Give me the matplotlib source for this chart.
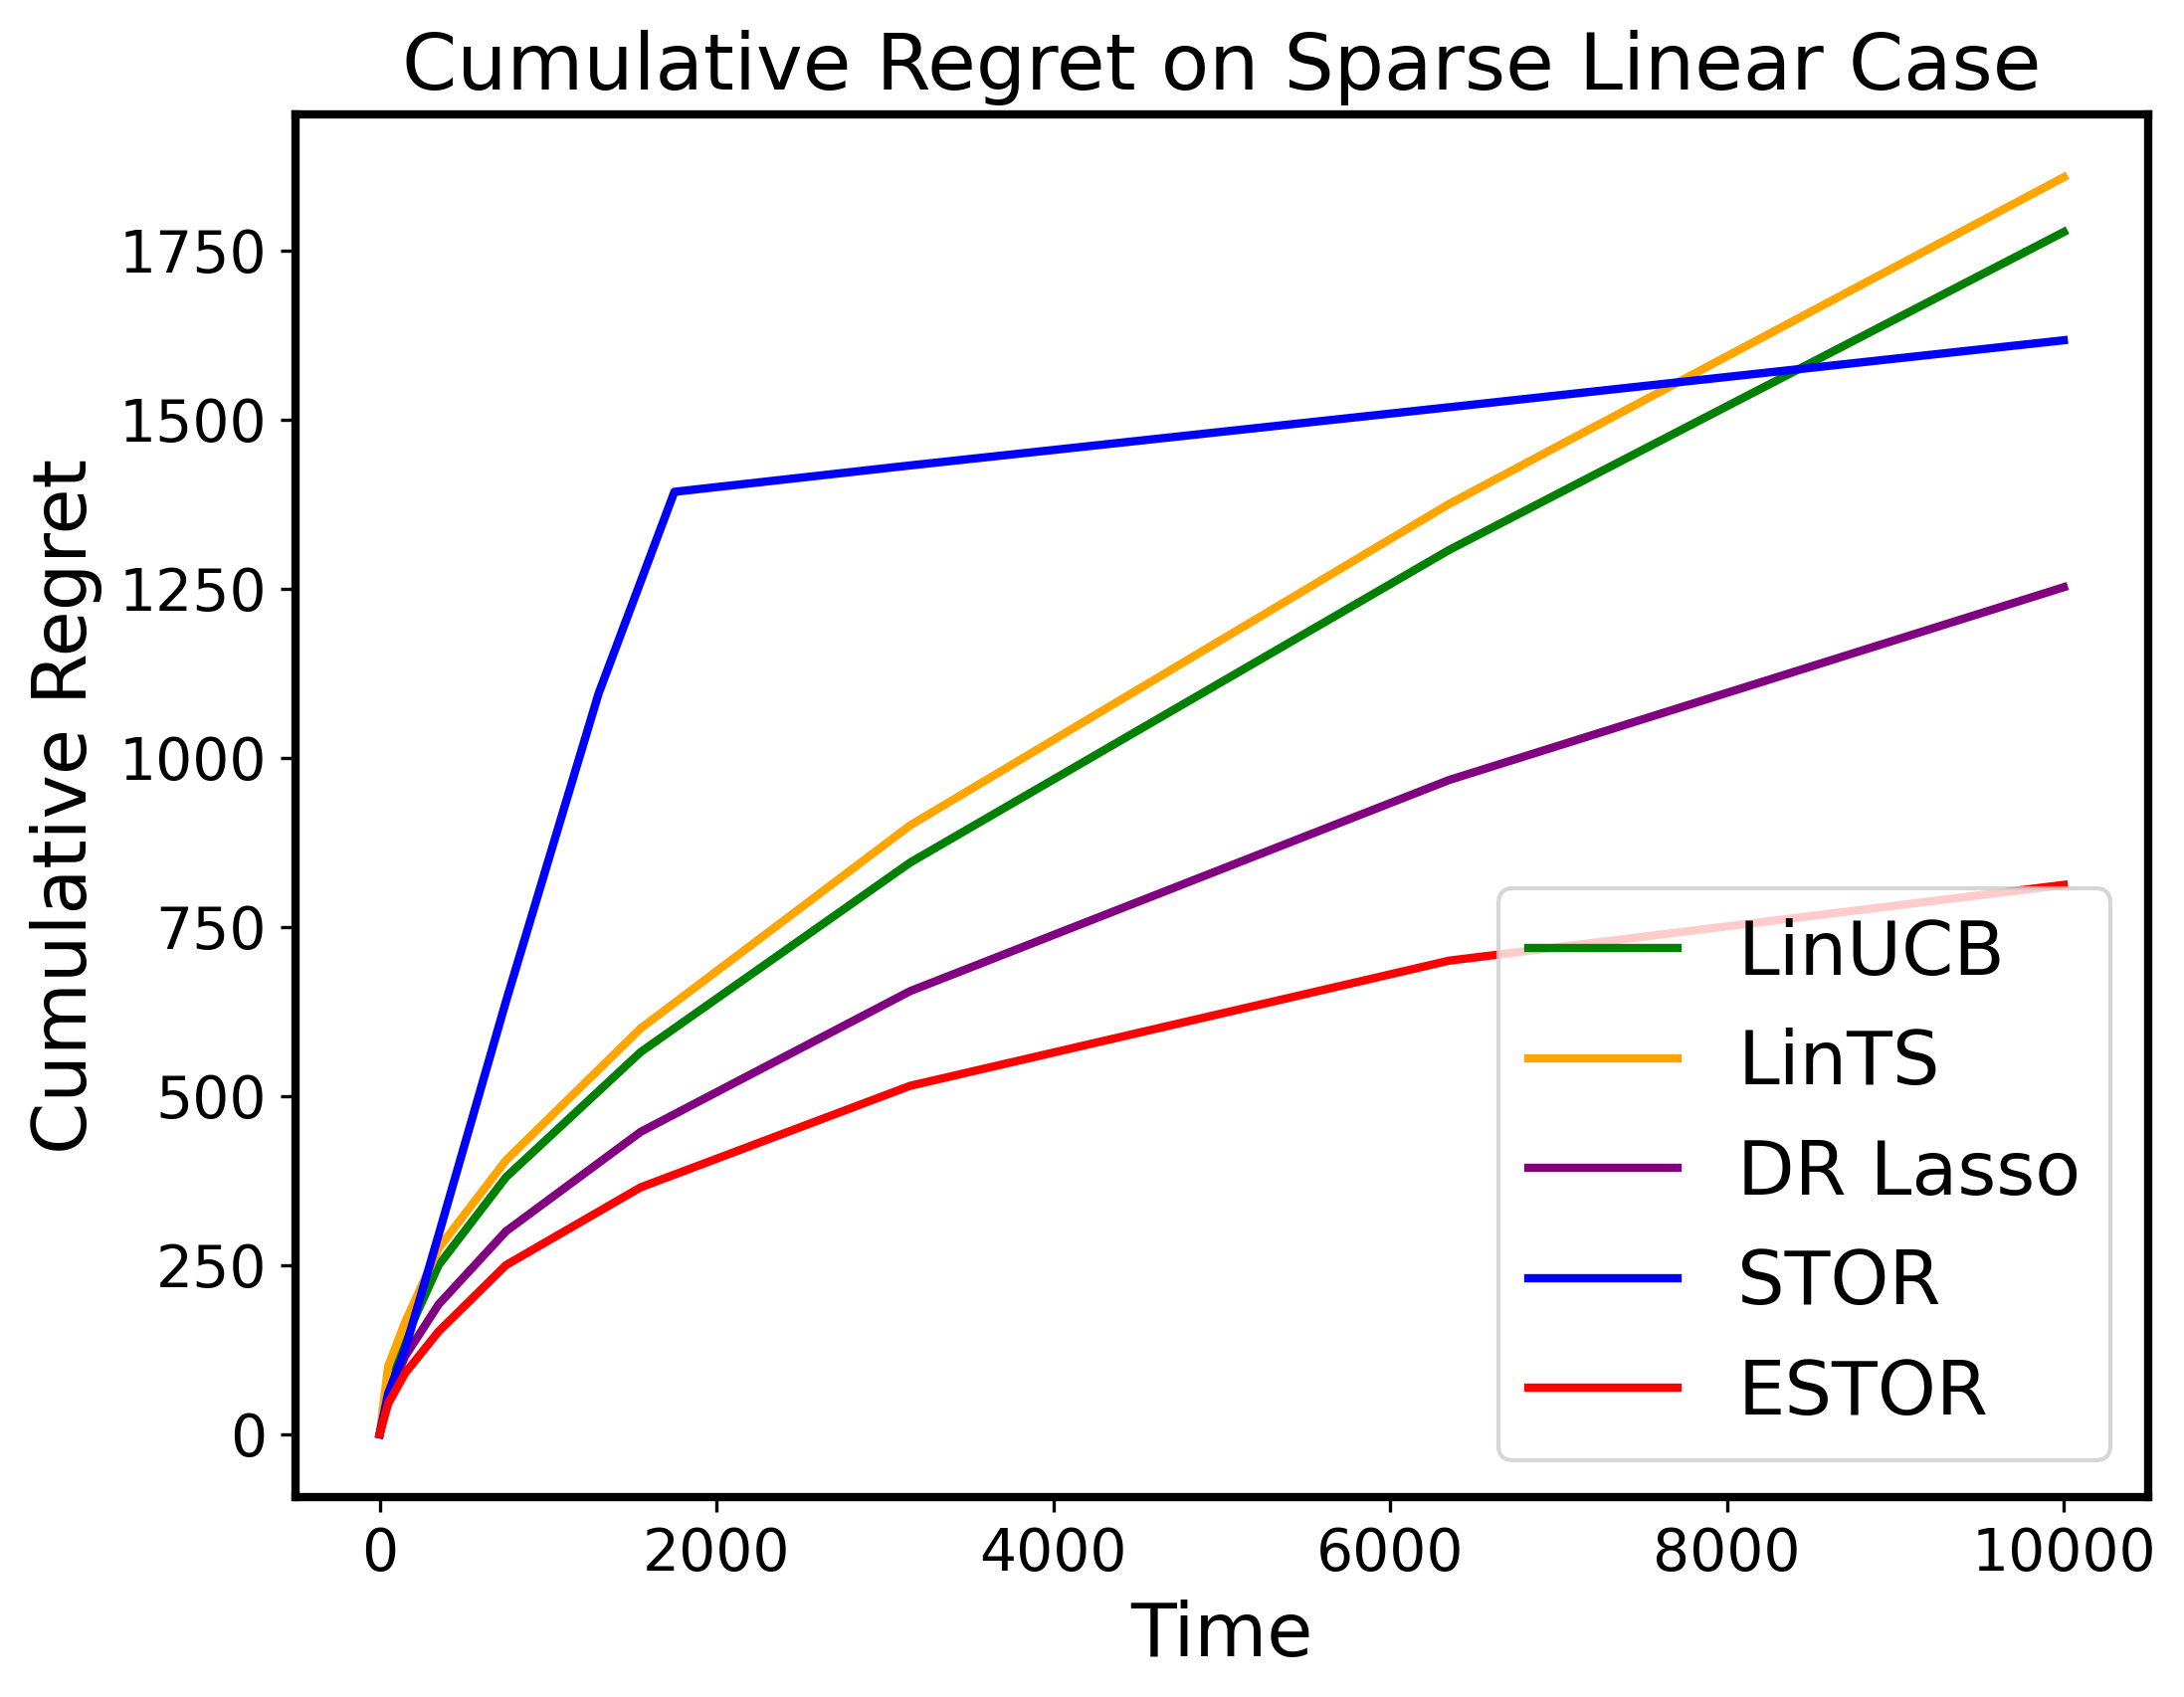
import matplotlib
matplotlib.use('Agg')
import matplotlib.pyplot as plt

# time steps where the averaged curves change slope
t = [0, 50, 150, 350, 750, 1550, 3150, 6350, 10000]

linucb = [0, 70, 140, 250, 380, 565, 845, 1307, 1777]
lints = [0, 100, 165, 275, 405, 600, 900, 1375, 1858]
drlasso = [0, 55, 115, 192, 300, 447, 655, 967, 1252]
estor = [0, 45, 90, 152, 250, 365, 515, 700, 812]

# STOR has its own breakpoints
t_stor = [0, 50, 150, 350, 750, 1300, 1750, 3150, 6350, 10000]
stor = [0, 60, 125, 295, 640, 1095, 1393, 1432, 1518, 1617]

fig = plt.figure(figsize=(7.3167, 5.6867), dpi=300)
ax = fig.add_subplot(111)
fig.subplots_adjust(left=0.1353, right=0.9835, top=0.9326, bottom=0.1178)

ax.plot(t, linucb, color='green', linewidth=2, label='LinUCB')
ax.plot(t, lints, color='orange', linewidth=2, label='LinTS')
ax.plot(t, drlasso, color='purple', linewidth=2, label='DR Lasso')
ax.plot(t_stor, stor, color='blue', linewidth=2, label='STOR')
ax.plot(t, estor, color='red', linewidth=2, label='ESTOR')

ax.set_title('Cumulative Regret on Sparse Linear Case', fontsize=19)
ax.set_xlabel('Time', fontsize=18)
ax.set_ylabel('Cumulative Regret', fontsize=18)
ax.tick_params(labelsize=14)
for s in ax.spines.values():
	s.set_linewidth(2)

ax.legend(loc='lower right', fontsize=18)

fig.savefig('out.png', dpi=300)
